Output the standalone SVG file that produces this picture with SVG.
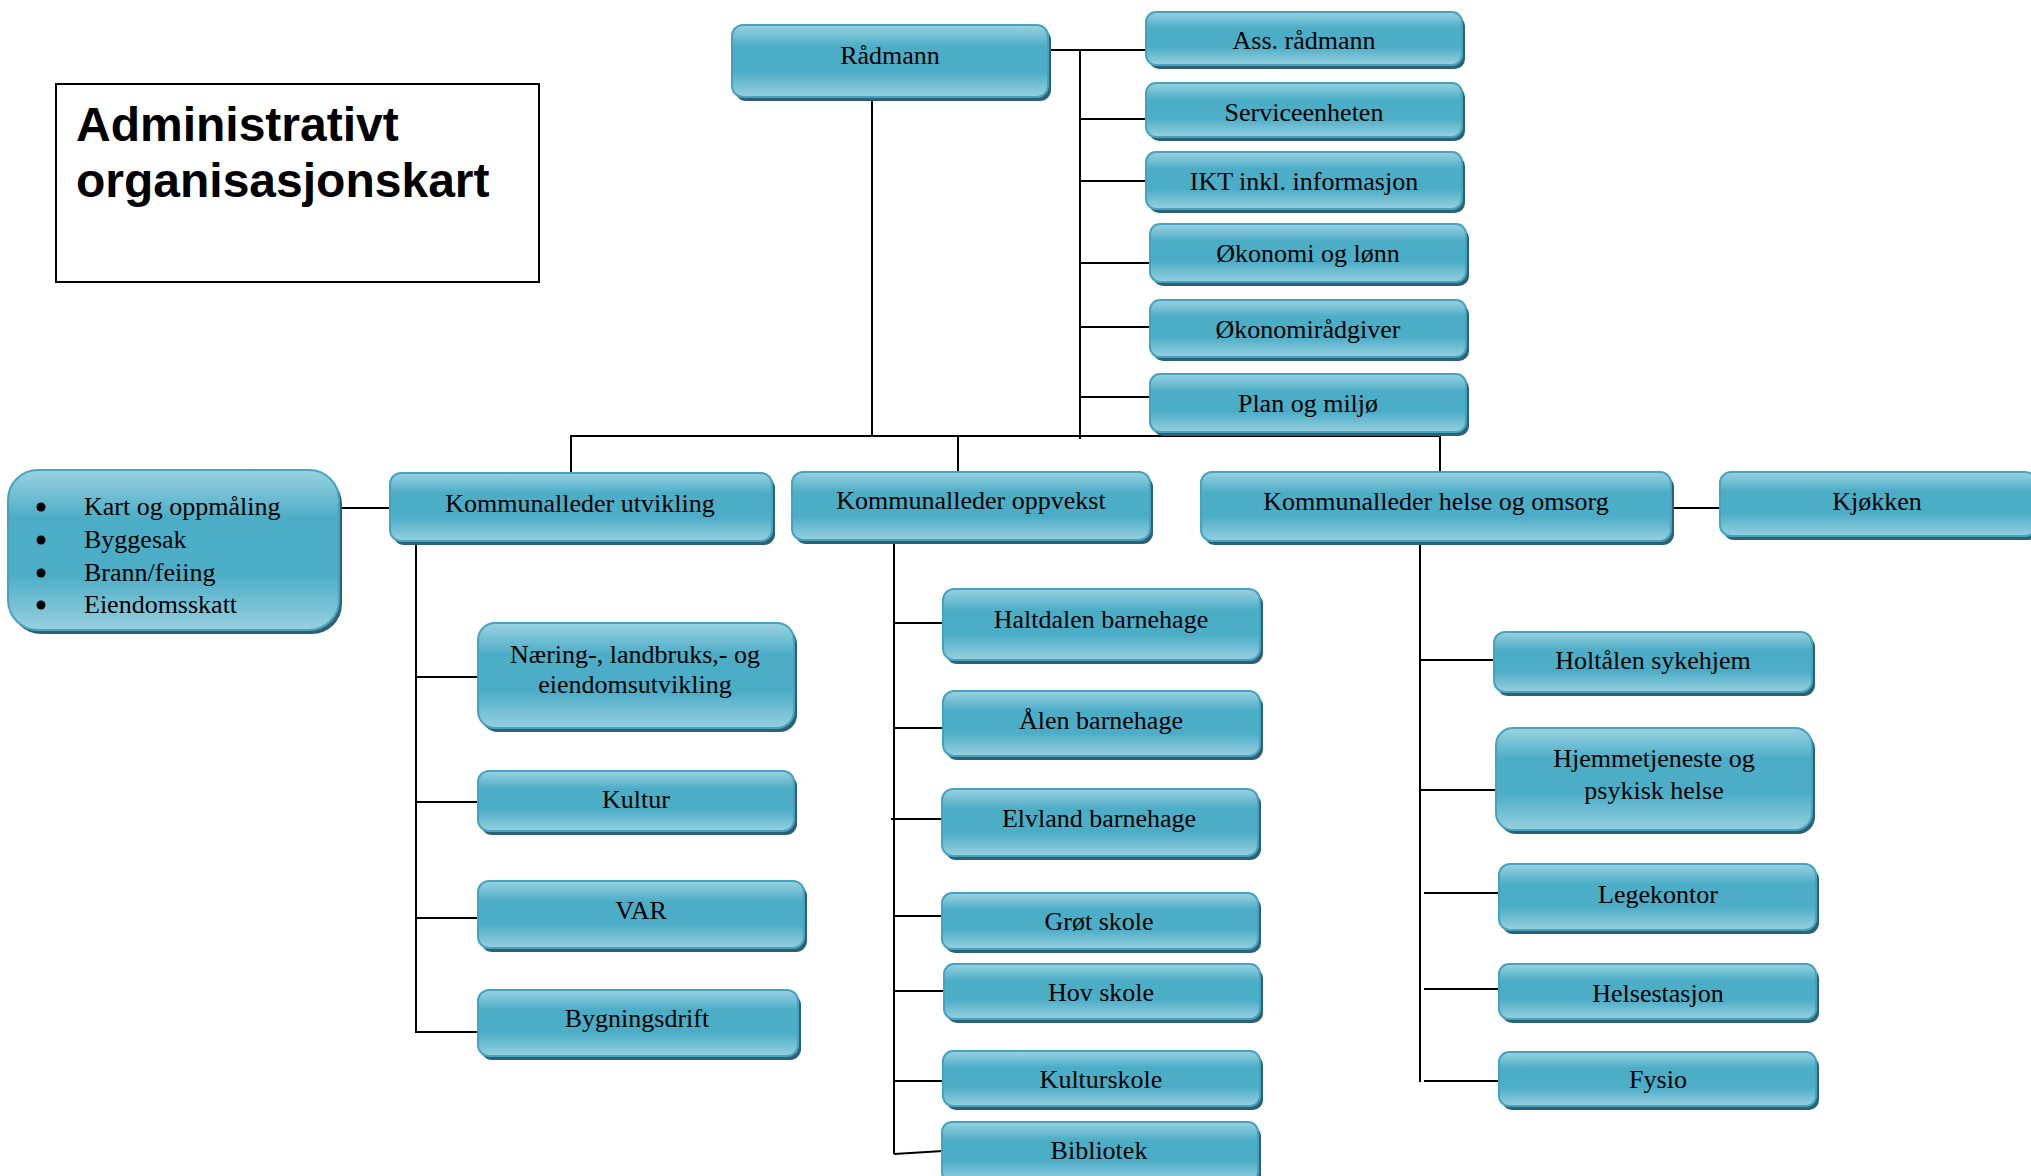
<svg xmlns="http://www.w3.org/2000/svg" width="2031" height="1176" viewBox="0 0 2031 1176">
<style>
.sh{fill:#2c6273}
.bx{fill:url(#g);stroke:#45a3c0;stroke-width:2}
.t{font-family:"Liberation Serif","Times New Roman",serif;font-size:26px;fill:#000;text-anchor:middle}
.tl{font-family:"Liberation Serif","Times New Roman",serif;font-size:26px;fill:#000}
.dot{fill:#000}
.ln{stroke:#000;stroke-width:2;fill:none}
.title{font-family:"Liberation Sans",Arial,sans-serif;font-size:48px;font-weight:bold;fill:#000}
</style>
<defs>
<linearGradient id="g" x1="0" y1="0" x2="0" y2="1">
<stop offset="0" stop-color="#9ad2e1"/>
<stop offset="0.3" stop-color="#4cadc7"/>
<stop offset="0.65" stop-color="#4cadc7"/>
<stop offset="1" stop-color="#97d0df"/>
</linearGradient>
</defs>
<rect width="2031" height="1176" fill="#fff"/>

<g id="title">
<rect x="56" y="84" width="483" height="198" fill="#fff" stroke="#000" stroke-width="2"/>
<text class="title" x="76" y="141">Administrativt</text>
<text class="title" x="76" y="197">organisasjonskart</text>
</g>

<g id="connectors">
<line class="ln" x1="1048" y1="50" x2="1146" y2="50"/>
<line class="ln" x1="1080" y1="50" x2="1080" y2="439"/>
<line class="ln" x1="1080" y1="119" x2="1146" y2="119"/>
<line class="ln" x1="1080" y1="181" x2="1146" y2="181"/>
<line class="ln" x1="1080" y1="263" x2="1150" y2="263"/>
<line class="ln" x1="1080" y1="327" x2="1150" y2="327"/>
<line class="ln" x1="1080" y1="397" x2="1150" y2="397"/>
<line class="ln" x1="872" y1="97" x2="872" y2="436"/>
<line class="ln" x1="570" y1="436" x2="1441" y2="436"/>
<line class="ln" x1="571" y1="436" x2="571" y2="473"/>
<line class="ln" x1="958" y1="436" x2="958" y2="472"/>
<line class="ln" x1="1440" y1="436" x2="1440" y2="472"/>
<line class="ln" x1="339" y1="508" x2="390" y2="508"/>
<line class="ln" x1="1671" y1="508" x2="1720" y2="508"/>
<line class="ln" x1="416" y1="541" x2="416" y2="1033"/>
<line class="ln" x1="416" y1="677" x2="478" y2="677"/>
<line class="ln" x1="416" y1="802" x2="478" y2="802"/>
<line class="ln" x1="416" y1="918" x2="478" y2="918"/>
<line class="ln" x1="416" y1="1032" x2="480" y2="1032"/>
<line class="ln" x1="894" y1="540" x2="894" y2="1154"/>
<line class="ln" x1="894" y1="623" x2="943" y2="623"/>
<line class="ln" x1="894" y1="728" x2="943" y2="728"/>
<line class="ln" x1="891" y1="819" x2="942" y2="819"/>
<line class="ln" x1="894" y1="916" x2="942" y2="916"/>
<line class="ln" x1="894" y1="991" x2="944" y2="991"/>
<line class="ln" x1="894" y1="1081" x2="943" y2="1081"/>
<line class="ln" x1="894" y1="1154" x2="943" y2="1151"/>
<line class="ln" x1="1420" y1="541" x2="1420" y2="1082"/>
<line class="ln" x1="1420" y1="660" x2="1494" y2="660"/>
<line class="ln" x1="1420" y1="790" x2="1496" y2="790"/>
<line class="ln" x1="1424" y1="893" x2="1499" y2="893"/>
<line class="ln" x1="1424" y1="989" x2="1499" y2="989"/>
<line class="ln" x1="1424" y1="1081" x2="1499" y2="1081"/>
</g>

<g id="n-radmann"><rect class="sh" x="735" y="29" width="316" height="72" rx="11"/><rect class="bx" x="732" y="25" width="316" height="72" rx="11"/><text class="t" x="890" y="64">Rådmann</text></g>
<g id="n-ass"><rect class="sh" x="1149" y="16" width="316" height="53" rx="10"/><rect class="bx" x="1146" y="12" width="316" height="53" rx="10"/><text class="t" x="1304" y="49">Ass. rådmann</text></g>
<g id="n-service"><rect class="sh" x="1149" y="87" width="316" height="54" rx="10"/><rect class="bx" x="1146" y="83" width="316" height="54" rx="10"/><text class="t" x="1304" y="121">Serviceenheten</text></g>
<g id="n-ikt"><rect class="sh" x="1149" y="156" width="316" height="57" rx="10"/><rect class="bx" x="1146" y="152" width="316" height="57" rx="10"/><text class="t" x="1304" y="190">IKT inkl. informasjon</text></g>
<g id="n-okonomi"><rect class="sh" x="1153" y="228" width="316" height="58" rx="10"/><rect class="bx" x="1150" y="224" width="316" height="58" rx="10"/><text class="t" x="1308" y="262">Økonomi og lønn</text></g>
<g id="n-okonomiradgiver"><rect class="sh" x="1153" y="304" width="316" height="57" rx="10"/><rect class="bx" x="1150" y="300" width="316" height="57" rx="10"/><text class="t" x="1308" y="338">Økonomirådgiver</text></g>
<g id="n-plan"><rect class="sh" x="1153" y="378" width="316" height="58" rx="10"/><rect class="bx" x="1150" y="374" width="316" height="58" rx="10"/><text class="t" x="1308" y="412">Plan og miljø</text></g>

<g id="n-bullets"><rect class="sh" x="11" y="474" width="331" height="160" rx="30"/><rect class="bx" x="8" y="470" width="331" height="160" rx="30"/>
<circle class="dot" cx="41" cy="507" r="4.5"/><text class="tl" x="84" y="515">Kart og oppmåling</text>
<circle class="dot" cx="41" cy="540" r="4.5"/><text class="tl" x="84" y="548">Byggesak</text>
<circle class="dot" cx="41" cy="573" r="4.5"/><text class="tl" x="84" y="581">Brann/feiing</text>
<circle class="dot" cx="41" cy="605" r="4.5"/><text class="tl" x="84" y="613">Eiendomsskatt</text></g>

<g id="n-utvikling"><rect class="sh" x="393" y="477" width="382" height="68" rx="11"/><rect class="bx" x="390" y="473" width="382" height="68" rx="11"/><text class="t" x="580" y="512">Kommunalleder utvikling</text></g>
<g id="n-oppvekst"><rect class="sh" x="795" y="476" width="358" height="68" rx="11"/><rect class="bx" x="792" y="472" width="358" height="68" rx="11"/><text class="t" x="971" y="509">Kommunalleder oppvekst</text></g>
<g id="n-helse"><rect class="sh" x="1204" y="476" width="470" height="69" rx="11"/><rect class="bx" x="1201" y="472" width="470" height="69" rx="11"/><text class="t" x="1436" y="510">Kommunalleder helse og omsorg</text></g>
<g id="n-kjokken"><rect class="sh" x="1723" y="476" width="316" height="64" rx="11"/><rect class="bx" x="1720" y="472" width="316" height="64" rx="11"/><text class="t" x="1877" y="510">Kjøkken</text></g>

<g id="n-naering"><rect class="sh" x="481" y="627" width="316" height="105" rx="17"/><rect class="bx" x="478" y="623" width="316" height="105" rx="17"/><text class="t" x="635" y="663">Næring-, landbruks,- og</text><text class="t" x="635" y="693">eiendomsutvikling</text></g>
<g id="n-kultur"><rect class="sh" x="481" y="775" width="316" height="60" rx="11"/><rect class="bx" x="478" y="771" width="316" height="60" rx="11"/><text class="t" x="636" y="808">Kultur</text></g>
<g id="n-var"><rect class="sh" x="481" y="885" width="326" height="67" rx="11"/><rect class="bx" x="478" y="881" width="326" height="67" rx="11"/><text class="t" x="641" y="919">VAR</text></g>
<g id="n-bygning"><rect class="sh" x="481" y="994" width="320" height="66" rx="11"/><rect class="bx" x="478" y="990" width="320" height="66" rx="11"/><text class="t" x="637" y="1027">Bygningsdrift</text></g>

<g id="n-haltdalen"><rect class="sh" x="946" y="593" width="317" height="71" rx="11"/><rect class="bx" x="943" y="589" width="317" height="71" rx="11"/><text class="t" x="1101" y="628">Haltdalen barnehage</text></g>
<g id="n-alen"><rect class="sh" x="946" y="695" width="317" height="65" rx="11"/><rect class="bx" x="943" y="691" width="317" height="65" rx="11"/><text class="t" x="1101" y="729">Ålen barnehage</text></g>
<g id="n-elvland"><rect class="sh" x="945" y="793" width="316" height="67" rx="11"/><rect class="bx" x="942" y="789" width="316" height="67" rx="11"/><text class="t" x="1099" y="827">Elvland barnehage</text></g>
<g id="n-grot"><rect class="sh" x="945" y="897" width="316" height="56" rx="10"/><rect class="bx" x="942" y="893" width="316" height="56" rx="10"/><text class="t" x="1099" y="930">Grøt skole</text></g>
<g id="n-hov"><rect class="sh" x="947" y="968" width="316" height="55" rx="10"/><rect class="bx" x="944" y="964" width="316" height="55" rx="10"/><text class="t" x="1101" y="1001">Hov skole</text></g>
<g id="n-kulturskole"><rect class="sh" x="946" y="1055" width="317" height="55" rx="10"/><rect class="bx" x="943" y="1051" width="317" height="55" rx="10"/><text class="t" x="1101" y="1088">Kulturskole</text></g>
<g id="n-bibliotek"><rect class="sh" x="945" y="1126" width="316" height="60" rx="10"/><rect class="bx" x="942" y="1122" width="316" height="60" rx="10"/><text class="t" x="1099" y="1159">Bibliotek</text></g>

<g id="n-holtalen"><rect class="sh" x="1497" y="636" width="318" height="60" rx="11"/><rect class="bx" x="1494" y="632" width="318" height="60" rx="11"/><text class="t" x="1653" y="669">Holtålen sykehjem</text></g>
<g id="n-hjemme"><rect class="sh" x="1499" y="732" width="316" height="102" rx="17"/><rect class="bx" x="1496" y="728" width="316" height="102" rx="17"/><text class="t" x="1654" y="767">Hjemmetjeneste og</text><text class="t" x="1654" y="799">psykisk helse</text></g>
<g id="n-lege"><rect class="sh" x="1502" y="868" width="317" height="66" rx="11"/><rect class="bx" x="1499" y="864" width="317" height="66" rx="11"/><text class="t" x="1658" y="903">Legekontor</text></g>
<g id="n-helsestasjon"><rect class="sh" x="1502" y="968" width="317" height="55" rx="10"/><rect class="bx" x="1499" y="964" width="317" height="55" rx="10"/><text class="t" x="1658" y="1002">Helsestasjon</text></g>
<g id="n-fysio"><rect class="sh" x="1502" y="1056" width="317" height="54" rx="10"/><rect class="bx" x="1499" y="1052" width="317" height="54" rx="10"/><text class="t" x="1658" y="1088">Fysio</text></g>
</svg>
